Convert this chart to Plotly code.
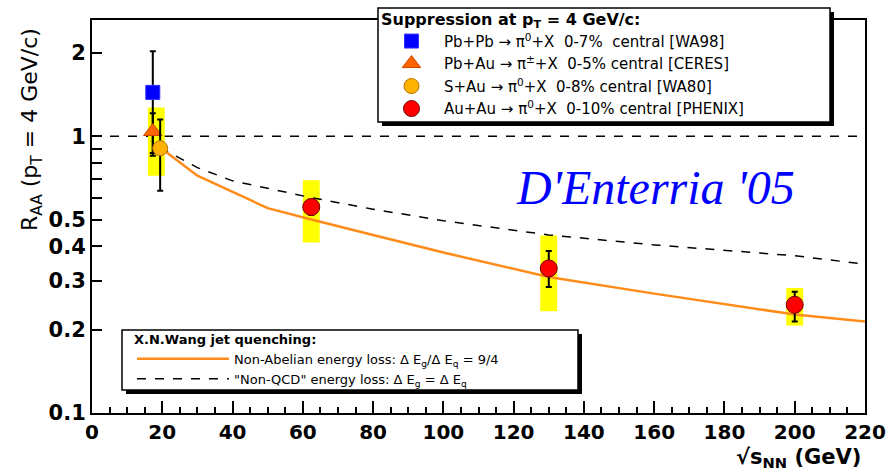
import plotly.graph_objects as go

# ---------------- data ----------------
wa98_x = [17.3]
wa98_y = [1.44]
wa98_err_hi = [0.59]
wa98_err_lo = [0.59]

ceres_x = [17.3]
ceres_y = [1.04]
ceres_err_hi = [0.17]
ceres_err_lo = [0.17]

wa80_x = [19.4]
wa80_y = [0.905]
wa80_err_hi = [0.245]
wa80_err_lo = [0.27]

phenix_x = [62.4, 130, 200]
phenix_y = [0.555, 0.333, 0.246]
phenix_err_hi = [0.035, 0.052, 0.028]
phenix_err_lo = [0.035, 0.048, 0.032]

# systematic (yellow) bands
band_x = [18.3, 62.4, 130, 200]
band_lo = [0.72, 0.413, 0.233, 0.207]
band_hi = [1.27, 0.693, 0.438, 0.283]

# X.N. Wang jet-quenching curves
nonabelian_x = [19.4, 30, 50, 62.4, 80, 100, 130, 160, 200, 220]
nonabelian_y = [0.91, 0.72, 0.55, 0.50, 0.44, 0.38, 0.31, 0.27, 0.227, 0.214]
nonqcd_x = [19.4, 30, 40, 62.4, 80, 100, 130, 160, 200, 220]
nonqcd_y = [0.91, 0.77, 0.69, 0.60, 0.545, 0.495, 0.44, 0.405, 0.37, 0.345]

unity = 1.0

x_tick_vals = list(range(0, 221, 20))
y_tick_vals = [0.1, 0.2, 0.3, 0.4, 0.5, 0.6, 0.7, 0.8, 0.9, 1, 2]
y_tick_text = ["0.1", "0.2", "0.3", "0.4", "0.5", "", "", "", "", "1", "2"]

# ---------------- figure ----------------
FONT = "DejaVu Sans"
fig = go.Figure()

band_len = [h - l for h, l in zip(band_hi, band_lo)]
fig.add_trace(go.Bar(x=band_x, y=band_len, base=band_lo, width=4.8,
                     marker=dict(color="#FFFF00", line=dict(width=0)),
                     showlegend=False, hoverinfo="skip"))

fig.add_trace(go.Scatter(x=nonqcd_x, y=nonqcd_y, mode="lines",
                         line=dict(color="black", width=1.5, dash="dash"),
                         name='"Non-QCD" energy loss: \u0394 E<sub>g</sub> = \u0394 E<sub>q</sub>',
                         legend="legend2", legendrank=2))
fig.add_trace(go.Scatter(x=nonabelian_x, y=nonabelian_y, mode="lines",
                         line=dict(color="#FF8C1A", width=2.5),
                         name="Non-Abelian energy loss: \u0394 E<sub>g</sub>/\u0394 E<sub>q</sub> = 9/4",
                         legend="legend2", legendrank=1))

err_style = dict(type="data", symmetric=False, color="black", thickness=2, width=3)

fig.add_trace(go.Scatter(x=wa98_x, y=wa98_y, mode="markers",
                         marker=dict(symbol="square", size=14, color="#0000FF",
                                     line=dict(color="#3030FF", width=1)),
                         error_y=dict(array=wa98_err_hi, arrayminus=wa98_err_lo, **err_style),
                         name="Pb+Pb \u2192 \u03c0<sup>0</sup>+X\u00a0\u00a00-7%\u00a0\u00a0central [WA98]",
                         legendrank=1))
fig.add_trace(go.Scatter(x=ceres_x, y=ceres_y, mode="markers",
                         marker=dict(symbol="triangle-up", size=16, color="#FF6600",
                                     line=dict(color="#CC4400", width=1)),
                         error_y=dict(array=ceres_err_hi, arrayminus=ceres_err_lo, **err_style),
                         name="Pb+Au \u2192 \u03c0<sup>\u00b1</sup>+X\u00a0\u00a00-5% central [CERES]",
                         legendrank=2))
fig.add_trace(go.Scatter(x=wa80_x, y=wa80_y, mode="markers",
                         marker=dict(symbol="circle", size=15, color="#FFB300",
                                     line=dict(color="#B87000", width=1)),
                         error_y=dict(array=wa80_err_hi, arrayminus=wa80_err_lo, **err_style),
                         name="S+Au \u2192 \u03c0<sup>0</sup>+X\u00a0\u00a00-8% central [WA80]",
                         legendrank=3))
fig.add_trace(go.Scatter(x=phenix_x, y=phenix_y, mode="markers",
                         marker=dict(symbol="circle", size=17, color="#FF0000",
                                     line=dict(color="#700000", width=1)),
                         error_y=dict(array=phenix_err_hi, arrayminus=phenix_err_lo, **err_style),
                         name="Au+Au \u2192 \u03c0<sup>0</sup>+X\u00a0\u00a00-10% central [PHENIX]",
                         legendrank=4))

# plot area in px: x 92..865, y 20..413
L, R, T, B = 92, 865, 20, 413
W, H = 896, 472
pw, ph = R - L, B - T


def px(xp):
    return (xp - L) / pw


def py(yp):
    return (B - yp) / ph


shapes = [
    # y = 1 reference line
    dict(type="line", xref="paper", yref="y", x0=0, x1=1, y0=unity, y1=unity,
         line=dict(color="black", width=1.5, dash="dash"), layer="below"),
]
# legend boxes with shadow
for (x0, y0, x1, y1) in [(378, 8, 830, 122), (122, 330, 578, 390)]:
    shapes.append(dict(type="rect", xref="paper", yref="paper",
                       x0=px(x0 + 4), x1=px(x1 + 4), y0=py(y1 + 4), y1=py(y0 + 4),
                       fillcolor="black", line=dict(width=0), layer="above"))
    shapes.append(dict(type="rect", xref="paper", yref="paper",
                       x0=px(x0), x1=px(x1), y0=py(y1), y1=py(y0),
                       fillcolor="white", line=dict(color="black", width=1.5), layer="above"))

annotations = [
    dict(text="R<sub>AA</sub> (p<sub>T</sub> = 4 GeV/c)", xref="paper", yref="paper",
         x=px(31), y=py(130), textangle=-90, showarrow=False,
         font=dict(family=FONT, size=22, color="black"), xanchor="center", yanchor="middle"),
    dict(text="<b>\u221as<sub>NN</sub> (GeV)</b>", xref="paper", yref="paper",
         x=px(863), y=py(458), showarrow=False, xanchor="right", yanchor="middle",
         font=dict(family=FONT, size=21, color="black")),
    dict(text="<i>D'Enterria '05</i>", xref="paper", yref="paper",
         x=px(655), y=py(187), showarrow=False, xanchor="center", yanchor="middle",
         font=dict(family="Liberation Serif", size=48, color="#0000FF")),
]

fig.update_layout(
    width=W, height=H,
    margin=dict(l=L, r=W - R, t=T, b=H - B, autoexpand=False),
    paper_bgcolor="white", plot_bgcolor="white",
    barmode="overlay",
    shapes=shapes,
    annotations=annotations,
    legend=dict(xref="container", yref="container",
                x=379 / W, y=1 - 4 / H, xanchor="left", yanchor="top",
                bgcolor="rgba(0,0,0,0)", borderwidth=0,
                title=dict(text="<b>Suppression at p<sub>T</sub> = 4 GeV/c:</b>",
                           font=dict(family=FONT, size=16, color="black")),
                font=dict(family=FONT, size=15, color="black"),
                itemwidth=55, tracegroupgap=0),
    legend2=dict(xref="container", yref="container",
                 x=132 / W, y=1 - 327 / H, xanchor="left", yanchor="top",
                 bgcolor="rgba(0,0,0,0)", borderwidth=0,
                 title=dict(text="<b>X.N.Wang jet quenching:</b>",
                            font=dict(family=FONT, size=13, color="black")),
                 font=dict(family=FONT, size=13, color="black"),
                 itemwidth=92, tracegroupgap=0),
)

fig.update_xaxes(range=[0, 220], tickvals=x_tick_vals, ticks="inside", ticklen=12,
                 tickwidth=1.5, tickcolor="black",
                 minor=dict(dtick=5, ticks="inside", ticklen=6, tickwidth=1.5, tickcolor="black"),
                 showline=True, linewidth=2, linecolor="black", mirror=True,
                 showgrid=False, zeroline=False,
                 tickfont=dict(family=FONT, size=20, color="black", weight="bold"))
fig.update_yaxes(type="log", range=[-1, 0.42], tickvals=y_tick_vals, ticktext=y_tick_text,
                 ticks="inside", ticklen=10, tickwidth=1.5, tickcolor="black",
                 showline=True, linewidth=2, linecolor="black", mirror=True,
                 showgrid=False, zeroline=False,
                 tickfont=dict(family=FONT, size=21, color="black", weight="bold"))

fig.write_html("out.html")
